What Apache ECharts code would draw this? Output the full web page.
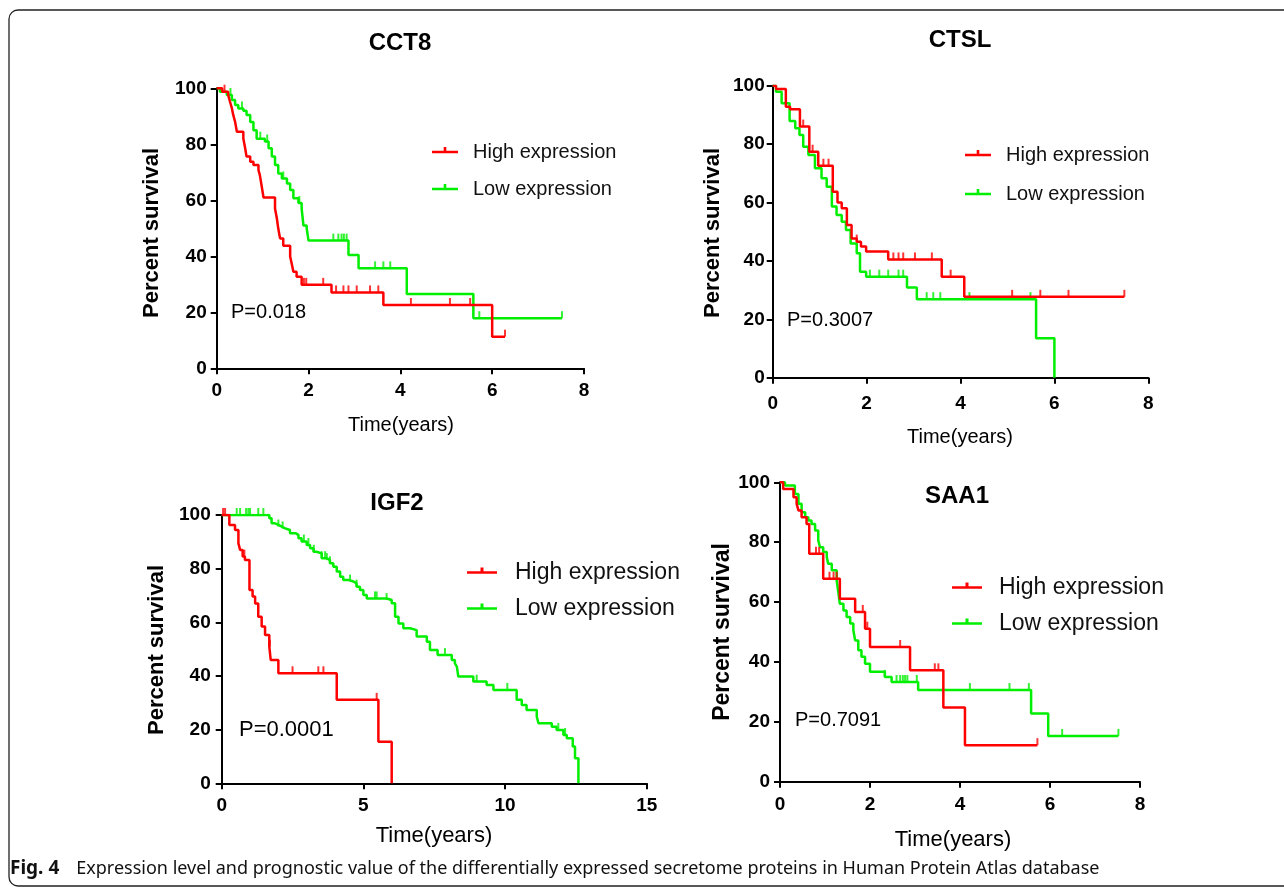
<!DOCTYPE html>
<html><head><meta charset="utf-8">
<script src="https://cdn.jsdelivr.net/npm/echarts@6/dist/echarts.min.js"></script>
<style>html,body{margin:0;padding:0;background:#fff}#c{width:1284px;height:892px}</style>
</head><body><div id="c"></div>
<script>
// ---------------- DATA ----------------
const seriesNames = ['High expression', 'Low expression'];
const panelTitles = ['CCT8', 'CTSL', 'IGF2', 'SAA1'];
const pValues = ['P=0.018', 'P=0.3007', 'P=0.0001', 'P=0.7091'];
const xTickMax = [8, 8, 15, 8];
const xTickStep = [2, 2, 5, 2];
const yTickMax = 100;
const yTickStep = 20;
const xAxisTitle = 'Time(years)';
const yAxisTitle = 'Percent survival';
const caption = 'Expression level and prognostic value of the differentially expressed secretome proteins in Human Protein Atlas database';
const captionLabel = 'Fig. 4';

// CCT8
const cct8HighT = [0,0.12,0.25,0.29,0.33,0.36,0.40,0.44,0.58,0.62,0.65,0.73,0.80,0.91,0.94,0.98,1.02,1.27,1.31,1.34,1.38,1.45,1.60,1.64,1.67,1.74,1.85,2.50,3.63,6.00,6.28];
const cct8HighS = [100,98.8,97.6,95.2,92.9,90.5,88.1,84.5,82.1,78.6,75.6,73.8,72.6,70.8,69.0,65.0,61.0,57.1,53.6,50.0,46.4,43.8,39.9,36.9,34.5,32.7,29.8,27.1,22.6,11.3,11.3];
const cct8HighCens = [0.17,1.90,1.95,2.32,2.60,2.76,2.87,3.05,3.34,3.52,4.23,5.08,5.52,6.28];
const cct8LowT = [0,0.07,0.22,0.33,0.40,0.47,0.58,0.65,0.73,0.80,0.87,1.05,1.13,1.20,1.27,1.34,1.42,1.53,1.60,1.67,1.78,1.85,1.89,1.96,2.00,2.87,3.09,4.14,5.59,7.52];
const cct8LowS = [100,98.8,97.6,95.8,94.0,92.8,92.0,90.5,88.0,85.0,82.0,81.0,78.6,75.6,72.6,69.6,67.8,66.0,63.7,60.7,59.0,57.0,51.0,50.0,45.6,40.5,35.7,26.5,17.9,17.9];
const cct8LowCens = [0.30,0.55,0.95,1.10,1.45,1.80,2.54,2.65,2.72,2.77,2.83,3.45,3.63,3.78,5.72,7.52];

// CTSL
const ctslHighT = [0,0.07,0.28,0.37,0.58,0.78,0.97,1.28,1.38,1.47,1.58,1.68,1.79,1.88,1.99,2.46,3.60,4.08,7.49];
const ctslHighS = [100,98.9,92.8,91.9,86.0,77.4,72.6,63.7,60.0,58.0,52.3,47.7,46.6,44.9,43.2,40.5,34.6,27.7,27.7];
const ctslHighCens = [0.65,0.85,1.08,1.19,1.79,2.57,2.68,2.78,3.03,3.39,3.79,5.10,5.70,6.30,7.49];
const ctslLowT = [0,0.07,0.19,0.36,0.48,0.57,0.65,0.76,0.90,1.04,1.15,1.26,1.36,1.47,1.56,1.66,1.79,1.86,1.99,2.86,3.07,5.61,6.00];
const ctslLowS = [100,97.9,94.0,87.9,85.4,83.1,79.1,76.3,71.7,68.3,65.4,58.6,55.7,53.4,50.6,46.0,42.6,36.3,34.6,30.9,26.9,13.5,0];
const ctslLowCens = [2.07,2.27,2.46,2.68,2.78,3.28,3.42,3.57,4.19,5.49];

// IGF2
const igf2HighT = [0,0.27,0.47,0.59,0.65,0.74,0.82,0.98,1.09,1.18,1.29,1.41,1.53,1.68,1.73,2.00,4.06,5.53,6.00];
const igf2HighS = [100,96.3,94.4,89.4,87.0,84.5,83.2,72.0,69.6,67.0,62.1,58.4,55.3,50.9,46.0,41.0,31.1,15.5,0];
const igf2HighCens = [0.05,0.12,0.80,1.70,2.50,3.41,3.59,5.47];
const igf2LowT = [0,1.68,1.76,1.88,2.00,2.12,2.24,2.41,2.62,2.71,2.82,3.00,3.12,3.24,3.35,3.53,3.71,3.82,3.94,4.06,4.18,4.29,4.47,4.65,4.76,4.88,5.00,5.12,5.82,6.00,6.12,6.24,6.41,6.65,6.88,7.24,7.35,7.62,8.12,8.23,8.30,8.35,8.88,9.35,9.59,10.41,10.59,10.76,11.12,11.18,11.65,11.82,12.06,12.18,12.39,12.47,12.59];
const igf2LowS = [100,98.8,96.9,96.3,95.7,95.0,94.4,93.2,92.5,91.3,90.1,88.8,87.6,86.3,85.7,83.9,83.2,82.0,80.7,78.9,77.0,75.8,75.2,74.5,73.3,72.0,70.2,68.9,68.3,67.1,62.1,59.6,57.8,57.1,54.7,52.8,49.7,47.8,46.0,44.7,43.5,39.8,37.9,36.6,34.8,31.1,29.2,27.3,24.8,22.4,21.1,19.9,18.0,16.8,13.7,9.3,0];
const igf2LowCens = [0.53,0.65,0.86,0.94,1.00,1.29,1.47,2.00,2.15,2.90,3.06,3.25,3.53,3.65,3.71,3.82,4.53,4.76,5.41,5.47,5.82,7.88,9.00,10.08,11.88,12.12];

// SAA1
const saa1HighT = [0,0.07,0.30,0.37,0.41,0.48,0.59,0.65,0.96,1.33,1.67,1.89,2.00,2.89,3.63,4.11,5.72];
const saa1HighS = [100,97.8,95.0,92.8,90.6,88.3,86.1,76.1,67.8,61.1,56.7,51.1,45.0,37.2,24.8,12.2,12.2];
const saa1HighCens = [0.80,0.87,1.10,1.19,1.26,1.84,1.94,2.67,3.44,3.52,5.72];
const saa1LowT = [0,0.11,0.33,0.41,0.48,0.56,0.63,0.70,0.78,0.85,0.89,0.96,1.04,1.07,1.15,1.26,1.30,1.33,1.41,1.48,1.56,1.63,1.67,1.74,1.81,1.89,2.00,2.33,2.48,3.07,5.58,5.96,7.52];
const saa1LowS = [100,98.9,96.1,92.8,90.0,88.3,87.2,86.1,83.9,80.6,78.3,76.7,75.0,72.8,70.6,67.2,62.8,59.4,57.2,55.0,52.8,50.6,47.2,43.9,41.7,39.4,36.7,35.0,33.3,30.6,22.8,15.3,15.3];
const saa1LowCens = [2.33,2.59,2.67,2.73,2.78,2.83,3.04,4.22,5.10,5.53,6.27,7.52];

// ---------------- LAYOUT / STYLE ----------------
const FONT = "'Liberation Sans', Arial, Helvetica, sans-serif";
const RED = '#ff0000', GREEN = '#00ee00';
const grids = [
  {left:216.7, top:88.3, width:367.3, height:280},
  {left:772.7, top:85.7, width:375.6, height:292},
  {left:221.7, top:515, width:425, height:268.3},
  {left:780, top:482.3, width:360, height:299.4}
];
const xLabelMargin = [13, 17, 13, 14];
const yLabelMargin = [10, 8, 11, 10];
const tickFont = [19, 19, 19, 19];
const legendPos = [
  {left:432, top:142, gap:17, w:26, fs:20, pad:10},
  {left:965, top:145, gap:19, w:26, fs:20, pad:10},
  {left:467, top:561, gap:13, w:30, fs:23, pad:13},
  {left:952, top:576, gap:13, w:30, fs:23, pad:12}
];
const titlePos = [[400,43],[960,40],[397,503],[957,496]];
const yTitlePos = [[152,233,22],[713,233,22],[157,650,22],[723,632,23]];
const xTitlePos = [[401,425,20],[960,437,20],[434,836,22],[953,840,22]];
const pPos = [[231,312,20],[787,320,20],[239,730,22],[795,720,20]];

const data = [
  [[cct8HighT,cct8HighS,cct8HighCens],[cct8LowT,cct8LowS,cct8LowCens]],
  [[ctslHighT,ctslHighS,ctslHighCens],[ctslLowT,ctslLowS,ctslLowCens]],
  [[igf2HighT,igf2HighS,igf2HighCens],[igf2LowT,igf2LowS,igf2LowCens]],
  [[saa1HighT,saa1HighS,saa1HighCens],[saa1LowT,saa1LowS,saa1LowCens]]
];

function km(t, s) { return t.map((x, i) => [x, s[i]]); }
function cens(tc, t, s) {
  return tc.map(c => { let v = s[0]; for (let i = 0; i < t.length; i++) if (t[i] <= c + 1e-9) v = s[i]; return [c, v]; });
}

const legendIcon = 'path://M0,8.5 L30,8.5 L30,11.5 L0,11.5 Z M13.5,4 L16.5,4 L16.5,8.5 L13.5,8.5 Z M0,16 L0.01,16 Z';

const option = {
  animation: false,
  backgroundColor: '#fff',
  grid: grids.map(g => Object.assign({outerBoundsMode:'none', containLabel:false}, g)),
  xAxis: grids.map((g, i) => ({
    type:'value', gridIndex:i, min:0, max:xTickMax[i], interval:xTickStep[i],
    splitLine:{show:false},
    axisLine:{show:true, onZero:false, lineStyle:{color:'#000', width:2}},
    axisTick:{show:true, length:6, lineStyle:{color:'#000', width:2}},
    axisLabel:{color:'#000', fontWeight:'bold', fontSize:tickFont[i], fontFamily:FONT, margin:xLabelMargin[i]}
  })),
  yAxis: grids.map((g, i) => ({
    type:'value', gridIndex:i, min:0, max:yTickMax, interval:yTickStep,
    splitLine:{show:false},
    axisLine:{show:true, onZero:false, lineStyle:{color:'#000', width:2}},
    axisTick:{show:true, length:6, lineStyle:{color:'#000', width:2}},
    axisLabel:{color:'#000', fontWeight:'bold', fontSize:tickFont[i], fontFamily:FONT, margin:yLabelMargin[i]}
  })),
  legend: legendPos.map(l => ({
    left:l.left, top:l.top, orient:'vertical', padding:0, itemGap:l.gap,
    itemWidth:l.w, itemHeight:10, symbolKeepAspect:false, selectedMode:false,
    icon: legendIcon,
    data: seriesNames,
    textStyle:{fontFamily:FONT, fontSize:l.fs, color:'#111', lineHeight:l.fs, padding:[0,0,0,l.pad]}
  })),
  series: [],
  graphic: []
};

data.forEach((pd, i) => {
  [1, 0].forEach(k => {
    const [t, s, c] = pd[k];
    const col = k === 0 ? RED : GREEN;
    option.series.push({
      type:'line', name:seriesNames[k], xAxisIndex:i, yAxisIndex:i, step:'end',
      showSymbol:false, symbol:'none', silent:true, color:col,
      lineStyle:{color:col, width:2.5}, data:km(t, s), z: k === 0 ? 3 : 2
    });
    option.series.push({
      type:'scatter', name:'cens' + i + '_' + k, xAxisIndex:i, yAxisIndex:i, silent:true,
      symbol:'rect', symbolSize:[2, 7], symbolOffset:[0, -3.5],
      itemStyle:{color:col}, data:cens(c, t, s), z: k === 0 ? 3 : 2
    });
  });
});

const G = option.graphic;
G.push({type:'rect', shape:{x:9, y:10, width:1320, height:876, r:9}, style:{fill:'none', stroke:'#222', lineWidth:1.3}, silent:true});
panelTitles.forEach((t, i) => {
  G.push({type:'text', x:titlePos[i][0], y:titlePos[i][1], style:{text:t, fontFamily:FONT, fontWeight:'bold', fontSize:24, fill:'#000', align:'center', verticalAlign:'middle'}});
  G.push({type:'text', x:yTitlePos[i][0], y:yTitlePos[i][1], rotation:Math.PI/2, style:{text:yAxisTitle, fontFamily:FONT, fontWeight:'bold', fontSize:yTitlePos[i][2], fill:'#000', align:'center', verticalAlign:'middle'}});
  G.push({type:'text', x:xTitlePos[i][0], y:xTitlePos[i][1], style:{text:xAxisTitle, fontFamily:FONT, fontSize:xTitlePos[i][2], fill:'#000', align:'center', verticalAlign:'middle'}});
  G.push({type:'text', x:pPos[i][0], y:pPos[i][1], style:{text:pValues[i], fontFamily:FONT, fontSize:pPos[i][2], fill:'#000', align:'left', verticalAlign:'middle'}});
});
G.push({type:'text', x:10, y:869, style:{
  text:'{b|' + captionLabel + '}' + caption,
  fontFamily:"'Noto Sans', sans-serif", fontSize:18, fill:'#111', verticalAlign:'middle',
  rich:{b:{fontFamily:"'Noto Sans', sans-serif", fontWeight:'bold', fontSize:19, fill:'#111', padding:[0,17,0,0]}}
}});

const chart = echarts.init(document.getElementById('c'), null, {renderer:'canvas'});
chart.setOption(option);
</script></body></html>
